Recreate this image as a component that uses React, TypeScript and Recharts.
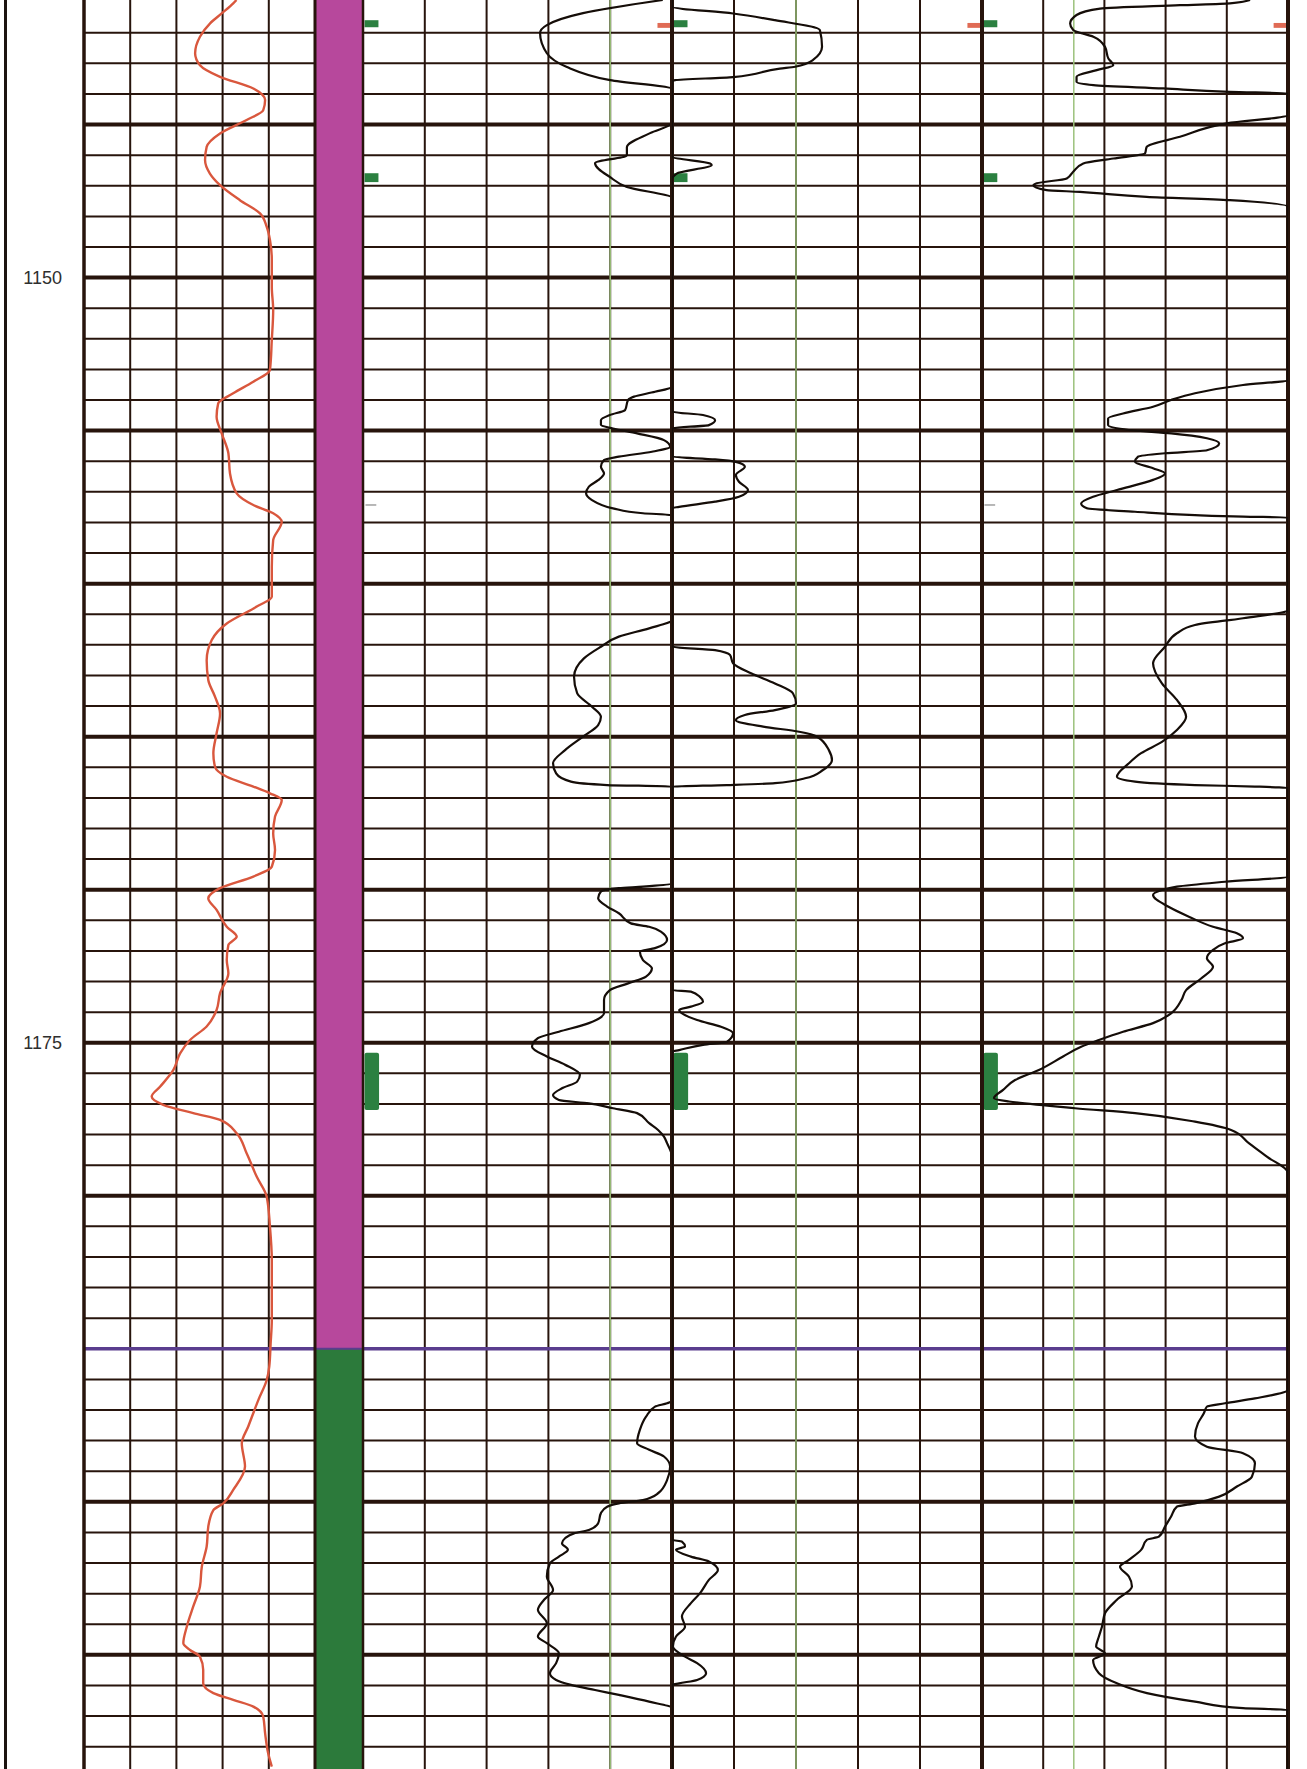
import React from "react";
import {
  ComposedChart,
  Line,
  XAxis,
  YAxis,
  CartesianGrid,
  ReferenceLine,
  ReferenceArea,
} from "recharts";

// depth window shown on the sheet
const TOP = 1140.93;
const BASE = 1198.73;
const HEIGHT = 1769;
const PAD = 3;

const GRID = "#27140c";
const PURPLE = "#5a3d8e";
const CUTOFF = "#9cc27c";
const FLAG_GREEN = "#2b8040";
const TICK_RED = "#e06b55";

const depthLabels = [1150, 1175];
const minorDepths = Array.from({ length: 58 }, (_, i) => 1141 + i);
const majorDepths = [1145, 1150, 1155, 1160, 1165, 1170, 1175, 1180, 1190, 1195];
const formationTop = 1185;
const columnValues = [20, 40, 60, 80];

const lithology = [
  { top: TOP, base: formationTop, color: "#b7489c" },
  { top: formationTop, base: BASE, color: "#2c7a3b" },
];

// flags on the left edge of tracks 2-4 and ticks on their right edge
const flagIntervals: [number, number][] = [
  [1141.59, 1141.82],
  [1146.59, 1146.88],
];
const flagBars: [number, number][] = [[1175.33, 1177.2]];
const redTicks: [number, number][] = [[1141.68, 1141.84]];
const grayTickDepth = 1157.43;

// track 1, red curve: [depth, value]
const gammaRay: [number, number][] = [
  [1140.93, 66.0], [1141.04, 64.6], [1141.37, 59.6], [1141.7, 54.5], [1142.13, 50.2], [1142.67, 48.1],
  [1143.06, 50.2], [1143.44, 58.9], [1143.82, 73.3], [1144.2, 78.4], [1144.53, 77.6], [1144.85, 70.4],
  [1145.29, 58.9], [1145.73, 53.1], [1146.16, 52.4], [1146.6, 54.5], [1146.98, 58.9], [1147.47, 67.5],
  [1147.9, 76.2], [1148.34, 79.1], [1148.77, 80.5], [1149.43, 81.3], [1150.3, 81.3], [1151.06, 81.9],
  [1152.04, 81.3], [1153.02, 80.5], [1153.4, 73.3], [1153.78, 64.6], [1154.11, 58.1], [1154.55, 57.4],
  [1155.09, 59.6], [1155.74, 62.5], [1156.4, 63.2], [1157.05, 66.1], [1157.43, 73.3], [1157.7, 81.9],
  [1157.98, 85.6], [1158.58, 81.9], [1159.45, 81.3], [1160.43, 81.3], [1160.75, 74.8], [1161.3, 61.8],
  [1161.84, 55.3], [1162.5, 53.1], [1163.15, 53.8], [1163.69, 56.7], [1164.24, 58.9], [1164.89, 57.4],
  [1165.54, 56.0], [1165.98, 56.7], [1166.31, 61.8], [1166.63, 73.3], [1166.85, 80.5], [1167.07, 85.6],
  [1167.61, 82.7], [1168.16, 81.9], [1168.7, 82.7], [1169.25, 81.3], [1169.57, 73.3], [1169.95, 58.9],
  [1170.28, 53.8], [1170.66, 57.4], [1171.21, 61.8], [1171.53, 66.1], [1171.81, 62.5], [1172.3, 61.8],
  [1172.73, 62.5], [1173.38, 58.9], [1173.93, 57.4], [1174.47, 53.1], [1174.91, 45.9], [1175.35, 41.6],
  [1175.89, 38.7], [1176.44, 32.9], [1176.76, 29.3], [1177.03, 34.3], [1177.3, 47.3], [1177.52, 58.9],
  [1177.96, 66.1], [1178.61, 70.4], [1179.38, 74.8], [1180.03, 79.1], [1181.01, 80.5], [1182.1, 81.3],
  [1183.4, 81.3], [1184.06, 81.3], [1184.82, 80.8], [1185.58, 80.2], [1186.02, 79.1], [1186.67, 75.5],
  [1187.54, 71.1], [1188.09, 68.3], [1188.85, 69.7], [1189.61, 64.6], [1190.05, 60.3], [1190.27, 56.0],
  [1190.81, 53.8], [1191.46, 53.1], [1192.12, 51.0], [1192.77, 50.2], [1193.42, 47.3], [1194.08, 44.5],
  [1194.62, 43.0], [1194.84, 45.9], [1195.06, 50.2], [1195.49, 51.6], [1195.93, 51.6], [1196.25, 56.0],
  [1196.47, 64.6], [1196.69, 73.3], [1197.02, 77.6], [1197.56, 78.4], [1198.21, 79.7], [1198.65, 81.3],
];

// track 2, pinned at 100 where it runs off the right edge
const trackTwo: [number, number][] = [
  [1140.93, 97.0], [1141.36, 71.2], [1141.75, 59.5], [1142.01, 57.3], [1142.67, 59.5], [1143.12, 66.0],
  [1143.55, 80.0], [1143.84, 100], [1144.95, 100], [1145.28, 92.9], [1145.74, 85.4], [1146.0, 85.4],
  [1146.26, 75.1], [1146.72, 80.0], [1147.04, 85.4], [1147.4, 100], [1153.57, 100], [1153.73, 94.5],
  [1153.89, 87.7], [1154.0, 85.8], [1154.33, 84.8], [1154.49, 79.9], [1154.66, 77.0], [1154.82, 77.0],
  [1154.93, 80.9], [1155.09, 88.7], [1155.31, 97.4], [1155.53, 99.4], [1155.69, 93.5], [1155.85, 82.8],
  [1155.96, 78.0], [1156.18, 77.0], [1156.4, 78.0], [1156.62, 76.1], [1156.83, 73.1], [1157.05, 72.2],
  [1157.27, 74.1], [1157.54, 80.9], [1157.7, 90.6], [1157.76, 100], [1161.19, 100], [1161.46, 92.6],
  [1161.73, 82.8], [1162.06, 77.0], [1162.44, 71.5], [1163.04, 68.3], [1163.58, 69.3], [1164.02, 74.1],
  [1164.35, 77.0], [1164.62, 76.1], [1165.0, 71.2], [1165.44, 65.4], [1165.87, 61.5], [1166.2, 62.5],
  [1166.47, 67.3], [1166.58, 79.0], [1166.63, 100], [1169.79, 100], [1169.9, 90.6], [1169.95, 82.8],
  [1170.06, 77.0], [1170.28, 76.1], [1170.55, 79.0], [1170.77, 82.8], [1171.1, 86.7], [1171.21, 92.6],
  [1171.37, 96.4], [1171.64, 98.4], [1171.91, 94.5], [1172.02, 89.6], [1172.3, 90.6], [1172.57, 93.5],
  [1172.84, 91.6], [1173.06, 85.8], [1173.28, 79.9], [1173.6, 78.0], [1174.04, 78.0], [1174.36, 73.1],
  [1174.64, 63.4], [1174.85, 56.6], [1175.13, 54.7], [1175.45, 59.5], [1175.72, 65.4], [1176.05, 70.2],
  [1176.27, 69.3], [1176.49, 64.4], [1176.71, 61.5], [1176.87, 63.4], [1176.98, 73.1], [1177.14, 80.9],
  [1177.3, 88.7], [1177.63, 92.6], [1177.85, 95.5], [1178.07, 97.4], [1178.28, 98.4], [1178.72, 100],
  [1186.7, 100], [1186.78, 98.4], [1186.89, 94.5], [1187.22, 91.6], [1187.65, 89.6], [1188.09, 88.7],
  [1188.3, 92.6], [1188.52, 97.4], [1188.85, 99.4], [1189.29, 98.4], [1189.72, 95.5], [1189.94, 90.6],
  [1190.05, 82.8], [1190.16, 79.0], [1190.37, 77.0], [1190.7, 76.1], [1190.92, 73.1], [1191.03, 68.3],
  [1191.19, 65.4], [1191.35, 64.4], [1191.57, 66.3], [1191.79, 63.4], [1192.01, 60.5], [1192.44, 59.5],
  [1192.88, 61.5], [1193.2, 58.6], [1193.53, 56.6], [1193.97, 59.5], [1194.4, 56.6], [1194.62, 59.5],
  [1194.95, 63.4], [1195.27, 62.5], [1195.6, 60.5], [1195.82, 62.5], [1195.98, 67.3], [1196.15, 75.1],
  [1196.31, 82.8], [1196.53, 92.6], [1196.74, 100], [1198.73, 100],
];

// track 3, pinned at 0 where it runs off the left edge
const trackThree: [number, number][] = [
  [1140.93, 0], [1141.15, 0], [1141.37, 19.7], [1141.59, 33.2], [1141.91, 47.7], [1142.46, 48.4],
  [1142.89, 45.5], [1143.11, 39.7], [1143.17, 34.8], [1143.45, 19.7], [1143.55, 1.0], [1143.6, 0],
  [1146.05, 0], [1146.27, 12.3], [1146.32, 12.8], [1146.6, 1.5], [1146.81, 0], [1154.38, 0],
  [1154.49, 10.0], [1154.66, 13.9], [1154.82, 11.9], [1154.93, 0], [1155.85, 0], [1155.94, 13.9],
  [1156.02, 20.6], [1156.18, 23.5], [1156.45, 20.6], [1156.67, 21.6], [1156.94, 24.5], [1157.16, 21.6],
  [1157.32, 13.9], [1157.49, 2.3], [1157.53, 0], [1162.06, 0], [1162.17, 13.9], [1162.33, 18.7],
  [1162.6, 19.7], [1162.93, 25.5], [1163.26, 33.2], [1163.58, 39.0], [1163.91, 40.0], [1164.13, 33.2],
  [1164.29, 23.5], [1164.46, 20.6], [1164.67, 29.4], [1164.84, 41.0], [1165.0, 46.8], [1165.44, 50.6],
  [1165.76, 51.6], [1166.09, 48.7], [1166.36, 42.9], [1166.52, 33.2], [1166.58, 17.7], [1166.63, 0],
  [1173.28, 0], [1173.33, 6.1], [1173.5, 9.0], [1173.66, 10.0], [1173.82, 6.1], [1173.93, 2.3],
  [1174.26, 8.1], [1174.48, 15.8], [1174.69, 19.7], [1174.97, 17.7], [1175.07, 10.0], [1175.24, 2.3],
  [1175.29, 0], [1191.24, 0], [1191.3, 3.2], [1191.46, 4.2], [1191.57, 1.3], [1191.79, 6.1],
  [1191.95, 11.9], [1192.23, 14.8], [1192.55, 11.9], [1192.99, 9.0], [1193.31, 6.1], [1193.75, 3.2],
  [1194.08, 4.2], [1194.4, 1.3], [1194.73, 0.3], [1195.06, 4.2], [1195.27, 8.1], [1195.6, 11.0],
  [1195.82, 8.1], [1195.93, 2.3], [1195.98, 0], [1198.73, 0],
];

// track 4, pinned at 100 where it runs off the right edge
const trackFour: [number, number][] = [
  [1140.93, 87.6], [1141.04, 81.0], [1141.1, 64.7], [1141.21, 38.6], [1141.42, 30.9], [1141.7, 28.8],
  [1141.91, 29.8], [1142.13, 36.4], [1142.46, 40.2], [1142.84, 41.3], [1143.06, 42.9], [1143.22, 37.5],
  [1143.44, 30.9], [1143.6, 30.9], [1143.71, 36.4], [1143.82, 59.2], [1143.93, 81.0], [1143.98, 100],
  [1144.69, 100], [1144.96, 80.0], [1145.4, 64.7], [1145.73, 53.8], [1145.94, 53.3], [1146.11, 42.9],
  [1146.27, 33.1], [1146.54, 29.8], [1146.76, 27.7], [1146.92, 17.9], [1146.98, 16.8], [1147.14, 21.1],
  [1147.2, 32.0], [1147.36, 53.8], [1147.47, 81.0], [1147.69, 100], [1153.35, 100], [1153.51, 85.3],
  [1153.78, 69.6], [1154.0, 61.8], [1154.22, 55.9], [1154.44, 46.1], [1154.6, 41.2], [1154.82, 41.2],
  [1154.98, 48.0], [1155.09, 61.8], [1155.25, 73.5], [1155.42, 77.5], [1155.64, 73.5], [1155.74, 59.8],
  [1155.85, 51.0], [1156.02, 50.0], [1156.23, 55.9], [1156.4, 59.8], [1156.61, 55.9], [1156.94, 44.1],
  [1157.16, 36.3], [1157.38, 32.4], [1157.54, 34.3], [1157.65, 50.0], [1157.76, 69.6], [1157.81, 85.3],
  [1157.84, 100], [1160.86, 100], [1161.13, 85.3], [1161.35, 69.6], [1161.62, 63.7], [1162.06, 59.8],
  [1162.6, 55.9], [1163.26, 58.8], [1163.8, 63.7], [1164.35, 66.7], [1164.78, 63.7], [1165.17, 58.8],
  [1165.54, 52.0], [1165.87, 48.0], [1166.31, 44.1], [1166.47, 50.0], [1166.58, 69.6], [1166.63, 89.2],
  [1166.68, 100], [1169.57, 100], [1169.74, 79.4], [1169.9, 63.7], [1170.01, 58.8], [1170.17, 55.9],
  [1170.55, 60.8], [1170.88, 67.6], [1171.21, 75.5], [1171.42, 83.3], [1171.59, 85.3], [1171.75, 79.4],
  [1171.97, 75.5], [1172.24, 73.5], [1172.52, 75.5], [1172.9, 71.6], [1173.28, 66.7], [1173.6, 65.2],
  [1174.04, 61.8], [1174.36, 55.9], [1174.64, 46.1], [1174.91, 38.2], [1175.13, 32.4], [1175.45, 26.5],
  [1175.89, 18.6], [1176.22, 10.8], [1176.54, 6.9], [1176.81, 3.9], [1176.92, 8.8], [1177.14, 30.4],
  [1177.3, 50.0], [1177.58, 69.6], [1177.85, 81.4], [1178.29, 87.3], [1178.72, 93.1], [1179.26, 100],
  [1186.34, 100], [1186.62, 89.2], [1186.78, 79.4], [1186.89, 73.5], [1187.11, 72.5], [1187.43, 70.6],
  [1187.87, 69.6], [1188.2, 73.5], [1188.41, 85.3], [1188.74, 89.2], [1189.18, 88.2], [1189.5, 83.3],
  [1189.83, 77.5], [1190.05, 69.6], [1190.16, 63.7], [1190.48, 61.8], [1190.81, 59.8], [1191.14, 57.8],
  [1191.24, 53.9], [1191.57, 52.0], [1191.9, 48.0], [1192.12, 45.1], [1192.44, 48.0], [1192.77, 49.0],
  [1193.2, 44.1], [1193.64, 40.2], [1194.08, 39.2], [1194.4, 38.2], [1194.73, 37.3], [1194.95, 40.2],
  [1195.17, 36.3], [1195.6, 38.2], [1195.93, 44.1], [1196.25, 53.9], [1196.53, 69.6], [1196.74, 85.3],
  [1196.8, 100], [1198.73, 100],
];

const toRows = (points: [number, number][]) => points.map(([depth, value]) => ({ depth, value }));

const resistivityTracks = [
  { key: "t2", left: 363, width: 309, points: trackTwo, cutoff: 80, leftEdge: 2.5, grayTick: true },
  { key: "t3", left: 672, width: 310, points: trackThree, cutoff: 40, leftEdge: 4, grayTick: false },
  { key: "t4", left: 982, width: 306, points: trackFour, cutoff: 30, leftEdge: 4, grayTick: true },
];

function depthGrid() {
  return [
    <CartesianGrid
      key="grid"
      horizontalValues={minorDepths}
      verticalValues={columnValues}
      stroke={GRID}
      strokeWidth={2}
    />,
    ...majorDepths.map((d) => <ReferenceLine key={`major-${d}`} y={d} stroke={GRID} strokeWidth={4} />),
    <ReferenceLine key="formation" y={formationTop} stroke={PURPLE} strokeWidth={3.5} />,
  ];
}

export default function App() {
  const gammaRows = toRows(gammaRay);
  const lithoRows = [
    { depth: TOP, value: 0.5 },
    { depth: BASE, value: 0.5 },
  ];

  return (
    <div style={{ position: "relative", width: 1307, height: HEIGHT, background: "#fff", overflow: "hidden" }}>
      <style>{"body{margin:0}"}</style>
      <div style={{ position: "absolute", left: 4, top: 0, width: 3, height: HEIGHT, background: "#1c1410" }} />

      {/* lithology column */}
      <div style={{ position: "absolute", left: 315, top: 0 }}>
        <ComposedChart layout="vertical" width={47} height={HEIGHT} data={lithoRows} margin={{ top: 0, right: 0, bottom: 0, left: 0 }}>
          <XAxis type="number" domain={[0, 1]} hide allowDataOverflow />
          <YAxis type="number" dataKey="depth" domain={[TOP, BASE]} hide allowDataOverflow />
          {lithology.map((l) => (
            <ReferenceArea key={l.color} x1={0} x2={1} y1={l.top} y2={l.base} fill={l.color} fillOpacity={1} stroke="none" />
          ))}
          <ReferenceLine y={formationTop} stroke={PURPLE} strokeWidth={2} />
          <Line dataKey="value" stroke="none" dot={false} isAnimationActive={false} />
        </ComposedChart>
      </div>

      {/* depth labels + gamma ray track */}
      <div style={{ position: "absolute", left: 0, top: 0 }}>
        <ComposedChart layout="vertical" width={315 + PAD} height={HEIGHT} data={gammaRows} margin={{ top: 0, right: PAD, bottom: 0, left: 0 }}>
          <XAxis type="number" domain={[0, 100]} hide allowDataOverflow />
          <YAxis
            type="number"
            dataKey="depth"
            domain={[TOP, BASE]}
            allowDataOverflow
            ticks={depthLabels}
            width={84}
            axisLine={false}
            tickLine={false}
            tickMargin={16}
            tick={{ fontSize: 18, fill: "#2e2e2e", fontFamily: "'Liberation Sans', Arial, sans-serif" }}
          />
          {depthGrid()}
          <ReferenceLine x={0} stroke={GRID} strokeWidth={3.5} />
          <ReferenceLine x={100} stroke={GRID} strokeWidth={3} />
          <Line dataKey="value" type="monotone" stroke="#d9573d" strokeWidth={2.4} dot={false} isAnimationActive={false} />
        </ComposedChart>
      </div>

      {resistivityTracks.map((t) => (
        <div key={t.key} style={{ position: "absolute", left: t.left - PAD, top: 0 }}>
          <ComposedChart
            layout="vertical"
            width={t.width + 2 * PAD}
            height={HEIGHT}
            data={toRows(t.points)}
            margin={{ top: 0, right: PAD, bottom: 0, left: PAD }}
          >
            <XAxis type="number" domain={[0, 100]} hide allowDataOverflow />
            <YAxis type="number" dataKey="depth" domain={[TOP, BASE]} hide allowDataOverflow />
            {depthGrid()}
            <ReferenceLine x={t.cutoff} stroke={CUTOFF} strokeWidth={1.5} />
            <ReferenceLine x={0} stroke={GRID} strokeWidth={t.leftEdge} />
            <ReferenceLine x={100} stroke={GRID} strokeWidth={4} />
            {flagIntervals.map(([a, b]) => (
              <ReferenceArea key={`flag-${a}`} x1={0.5} x2={5} y1={a} y2={b} fill={FLAG_GREEN} fillOpacity={1} stroke="none" />
            ))}
            {flagBars.map(([a, b]) => (
              <ReferenceArea key={`bar-${a}`} x1={0.5} x2={5.2} y1={a} y2={b} fill={FLAG_GREEN} fillOpacity={1} stroke="none" radius={2} />
            ))}
            {redTicks.map(([a, b]) => (
              <ReferenceArea key={`red-${a}`} x1={95.3} x2={99.5} y1={a} y2={b} fill={TICK_RED} fillOpacity={1} stroke="none" />
            ))}
            {t.grayTick && (
              <ReferenceArea x1={0.8} x2={4.3} y1={grayTickDepth - 0.02} y2={grayTickDepth + 0.02} fill="#8a8a8a" fillOpacity={1} stroke="none" />
            )}
            <Line dataKey="value" type="monotone" stroke="#150d08" strokeWidth={2.2} dot={false} isAnimationActive={false} />
          </ComposedChart>
        </div>
      ))}
    </div>
  );
}
